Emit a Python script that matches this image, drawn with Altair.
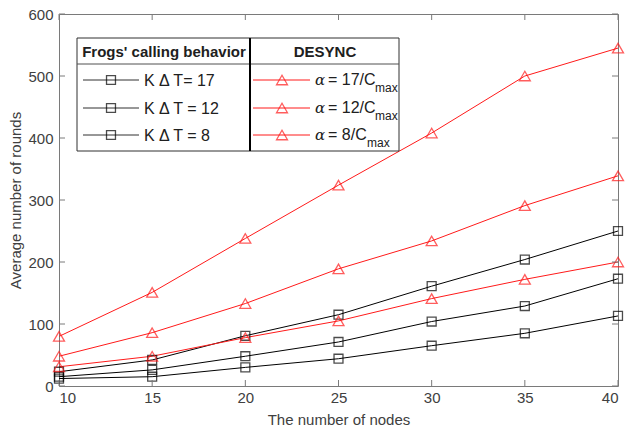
import altair as alt
import pandas as pd

nodes = [10, 15, 20, 25, 30, 35, 40]
frog17 = [23, 42, 81, 115, 161, 204, 250]
frog12 = [15, 26, 48, 71, 104, 129, 173]
frog8 = [12, 15, 30, 44, 65, 85, 113]
desync17 = [80, 151, 238, 324, 408, 500, 545]
desync12 = [48, 86, 133, 189, 234, 291, 339]
desync8 = [31, 48, 78, 105, 141, 172, 200]

frog_labels = ["K \u0394 T= 17", "K \u0394 T = 12", "K \u0394 T = 8"]
desync_labels = ["= 17/C", "= 12/C", "= 8/C"]
x_ticks = [10, 15, 20, 25, 30, 35, 40]
y_ticks = [0, 100, 200, 300, 400, 500, 600]

W, H = 559, 372
FONT = "Liberation Sans"
AXC = "#7a7a7a"
TXC = "#404040"
RED = "#ff1a1a"

rows = []
for name, grp, vals in [("f17", "frog", frog17), ("f12", "frog", frog12), ("f8", "frog", frog8),
                        ("d17", "desync", desync17), ("d12", "desync", desync12), ("d8", "desync", desync8)]:
    for xv, yv in zip(nodes, vals):
        rows.append({"nodes": xv, "rounds": yv, "series": name, "group": grp})
df = pd.DataFrame(rows)

xs = alt.Scale(domain=[10, 40], nice=False)
ys = alt.Scale(domain=[0, 600], nice=False)
col = alt.Color("group:N", scale=alt.Scale(domain=["frog", "desync"], range=["#000000", RED]), legend=None)
shp = alt.Shape("group:N", scale=alt.Scale(domain=["frog", "desync"], range=["square", "triangle-up"]), legend=None)

axis_style = dict(ticks=False, domain=False, grid=False, labelFont=FONT, titleFont=FONT,
                  labelFontSize=15, titleFontSize=15, labelColor=TXC, titleColor=TXC,
                  titleFontWeight="normal")
base = alt.Chart(df).encode(
    x=alt.X("nodes:Q", scale=xs, axis=alt.Axis(values=x_ticks, title="The number of nodes",
                                                labelPadding=4, titlePadding=7, **axis_style)),
    y=alt.Y("rounds:Q", scale=ys, axis=alt.Axis(values=y_ticks, title="Average number of rounds",
                                                 labelPadding=6, titlePadding=4, **axis_style)),
)
lines = base.mark_line(strokeWidth=1).encode(color=col, detail="series:N")
points = base.mark_point(filled=False, strokeWidth=1.3).encode(
    color=col, shape=shp,
    size=alt.Size("group:N", scale=alt.Scale(domain=["frog", "desync"], range=[80, 120]), legend=None))

xt = pd.DataFrame({"t": x_ticks})
yt = pd.DataFrame({"t": y_ticks})
tick_layers = [
    alt.Chart(xt).mark_rule(color=AXC, strokeWidth=1).encode(x=alt.X("t:Q", scale=xs), y=alt.value(H), y2=alt.value(H - 6)),
    alt.Chart(xt).mark_rule(color=AXC, strokeWidth=1).encode(x=alt.X("t:Q", scale=xs), y=alt.value(0), y2=alt.value(6)),
    alt.Chart(yt).mark_rule(color=AXC, strokeWidth=1).encode(y=alt.Y("t:Q", scale=ys), x=alt.value(0), x2=alt.value(6)),
    alt.Chart(yt).mark_rule(color=AXC, strokeWidth=1).encode(y=alt.Y("t:Q", scale=ys), x=alt.value(W), x2=alt.value(W - 6)),
]

# legend (pixel-positioned decoration)
one = pd.DataFrame({"a": [0]})
L, R, T, B = 18, 340, 24, 137
leg = []
leg.append(alt.Chart(one).mark_rect(fill="white", stroke="#303030", strokeWidth=1).encode(
    x=alt.value(L), x2=alt.value(R), y=alt.value(T), y2=alt.value(B)))
leg.append(alt.Chart(one).mark_rule(color="#505050", strokeWidth=1).encode(
    x=alt.value(L), x2=alt.value(R), y=alt.value(50)))
leg.append(alt.Chart(one).mark_rule(color="black", strokeWidth=2).encode(
    x=alt.value(191), y=alt.value(T), y2=alt.value(B)))
leg.append(alt.Chart(one).mark_text(text="Frogs' calling behavior", font=FONT, fontSize=15, fontWeight="bold",
                                    color="#202020", align="center", baseline="middle").encode(
    x=alt.value(105), y=alt.value(38)))
leg.append(alt.Chart(one).mark_text(text="DESYNC", font=FONT, fontSize=15, fontWeight="bold",
                                    color="#202020", align="center", baseline="middle").encode(
    x=alt.value(266), y=alt.value(38)))
row_y = [66, 94, 121]
sub_x = [316, 316, 308]
for i, yy in enumerate(row_y):
    leg.append(alt.Chart(one).mark_rule(color="#303030", strokeWidth=1).encode(
        x=alt.value(24), x2=alt.value(80), y=alt.value(yy)))
    leg.append(alt.Chart(one).mark_point(shape="square", filled=False, color="black", size=80, strokeWidth=1.3).encode(
        x=alt.value(52), y=alt.value(yy)))
    leg.append(alt.Chart(one).mark_text(text=frog_labels[i], font=FONT, fontSize=16, color="#202020",
                                        align="left", baseline="middle").encode(x=alt.value(85), y=alt.value(yy + 1)))
    leg.append(alt.Chart(one).mark_rule(color=RED, strokeWidth=1).encode(
        x=alt.value(194), x2=alt.value(251), y=alt.value(yy)))
    leg.append(alt.Chart(one).mark_point(shape="triangle-up", filled=False, color=RED, size=120, strokeWidth=1.3).encode(
        x=alt.value(223), y=alt.value(yy)))
    leg.append(alt.Chart(one).mark_text(text="\u03b1", font="DejaVu Serif", fontSize=15, fontStyle="italic",
                                        color="#202020", align="left", baseline="middle").encode(
        x=alt.value(256), y=alt.value(yy)))
    leg.append(alt.Chart(one).mark_text(text=desync_labels[i], font=FONT, fontSize=16, color="#202020",
                                        align="left", baseline="middle").encode(x=alt.value(269), y=alt.value(yy)))
    leg.append(alt.Chart(one).mark_text(text="max", font=FONT, fontSize=12, color="#202020",
                                        align="left", baseline="middle").encode(x=alt.value(sub_x[i]), y=alt.value(yy + 8)))

chart = alt.layer(lines, points, *tick_layers, *leg).properties(
    width=W, height=H,
    background="white",
    autosize=alt.AutoSizeParams(type="none"),
    padding={"left": 59, "top": 14, "right": 8, "bottom": 44},
).configure_view(stroke=AXC, strokeWidth=1)

chart.save("out.html", embed_options={"renderer": "svg", "actions": False})
